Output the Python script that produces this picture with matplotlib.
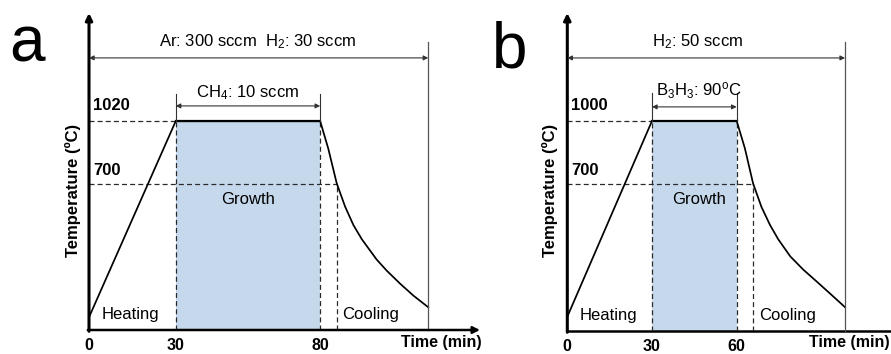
import numpy as np
import matplotlib.pyplot as plt

plt.rcParams['font.family'] = ['Liberation Sans', 'DejaVu Sans']
plt.rcParams['mathtext.fontset'] = 'custom'
plt.rcParams['mathtext.rm'] = 'Liberation Sans'
plt.rcParams['mathtext.it'] = 'Liberation Sans'

# panel a: graphene growth recipe (time in min, temperature in C)
a_time = [0, 30, 80, 82.8, 85.7, 88.6, 91.5, 94.4, 99.5, 103, 107.6, 112.2, 117.4]
a_temp = [20, 1020, 1020, 880, 704, 585, 490, 418, 315, 258, 192, 131, 71]
a_ticks = [0, 30, 80]
a_levels = [1020, 700]
a_gas = 'Ar: 300 sccm  H$_2$: 30 sccm'
a_source = 'CH$_4$: 10 sccm'

# panel b: h-BN growth recipe
b_time = [0, 30, 60, 62.9, 65.8, 68.8, 71.8, 74.7, 79, 83.6, 88.3, 93.1, 98.4]
b_temp = [68, 1000, 1000, 870, 703, 590, 505, 437, 355, 292, 236, 178, 113]
b_ticks = [0, 30, 60]
b_levels = [1000, 700]
b_gas = 'H$_2$: 50 sccm'
b_source = 'B$_3$H$_3$: 90$^\\mathrm{o}$C'

blue = '#c6d9ec'


def draw_panel(ax, t, T, ticks, levels, gas, source, ylim, xmax, ppu,
               growth_x, gas_x, src_y, gas_y, last_arrow=True):
    ax.set_xlim(0, xmax)
    ax.set_ylim(*ylim)
    for s in ax.spines.values():
        s.set_visible(False)
    ax.set_yticks([])
    ax.set_xticks(ticks)
    ax.set_xticklabels([str(v) for v in ticks], fontweight='bold', fontsize=11.5)
    ax.tick_params(axis='x', length=0, pad=6)

    t0, t1, t2 = t[1], t[2], t[4]
    t_end = t[-1]
    ymin = ylim[0]
    top, low = levels

    # axes with arrows
    ax.annotate('', xy=(0, 1), xytext=(0, -0.004), xycoords='axes fraction',
                arrowprops=dict(arrowstyle='-|>', lw=2.2, color='k', mutation_scale=10,
                                shrinkA=0, shrinkB=0))
    if last_arrow:
        ax.annotate('', xy=(1, 0), xytext=(-0.003, 0), xycoords='axes fraction',
                    arrowprops=dict(arrowstyle='-|>', lw=1.8, color='k', mutation_scale=10,
                                    shrinkA=0, shrinkB=0))
    else:
        ax.plot([0, 1], [0, 0], transform=ax.transAxes, color='k', lw=1.8,
                clip_on=False, solid_capstyle='butt')

    # growth shading
    ax.fill_between([t0, t1], ymin, top, color=blue, lw=0)

    dash = (0, (4, 2.5))
    dc = '#2a2a2a'
    ax.plot([0, t0], [top, top], color=dc, lw=0.9, ls=dash)
    ax.plot([0, t2], [low, low], color=dc, lw=0.9, ls=dash)
    for xv, yv in [(t0, top), (t1, top), (t2, low)]:
        ax.plot([xv, xv], [ymin, yv], color=dc, lw=0.9, ls=dash)

    # temperature profile
    ax.plot(t, T, color='k', lw=1.25, solid_joinstyle='round')
    ax.plot([t0, t1], [top, top], color='k', lw=1.6)

    # end marker
    ax.plot([t_end, t_end], [ymin, gas_y[1]], color='#555555', lw=0.9, clip_on=False)

    # gas arrow
    ax.annotate('', xy=(t_end, gas_y[0]), xytext=(0, gas_y[0]),
                arrowprops=dict(arrowstyle='<|-|>', lw=0.8, color='#333333',
                                mutation_scale=7, shrinkA=0, shrinkB=0))
    ax.text(gas_x, gas_y[1], gas, ha='center', va='center', fontsize=12)

    # precursor arrow
    for xv in (t0, t1):
        ax.plot([xv, xv], [top, src_y[1]], color='#333333', lw=0.8)
    ax.annotate('', xy=(t1, src_y[0]), xytext=(t0, src_y[0]),
                arrowprops=dict(arrowstyle='<|-|>', lw=0.8, color='#333333',
                                mutation_scale=7, shrinkA=0, shrinkB=0))
    ax.text(growth_x, src_y[2], source, ha='center', va='center', fontsize=12)

    # labels
    ax.annotate(str(top), xy=(0, top), xytext=(3, 11), textcoords='offset points',
                va='center', ha='left', fontsize=12, fontweight='bold')
    ax.annotate(str(low), xy=(0, low), xytext=(3, 10), textcoords='offset points',
                va='center', ha='left', fontsize=12, fontweight='bold')
    ax.text(growth_x, low - 16 * ppu, 'Growth', ha='center', va='center', fontsize=12)
    ax.text(4.5, ymin + 16 * ppu, 'Heating', ha='left', va='center', fontsize=12)
    ax.text(t2 + 2, ymin + 16 * ppu, 'Cooling', ha='left', va='center', fontsize=12)


fig = plt.figure(figsize=(8.91, 3.54), dpi=100)
W, H = 891, 354

ax_a = fig.add_axes([89 / W, (H - 330) / H, (480 - 89) / W, (330 - 13) / H])
draw_panel(ax_a, a_time, a_temp, a_ticks, a_levels, a_gas, a_source,
           ylim=(-45, 1572), xmax=(480 - 89) / 2.89, ppu=5.1,
           growth_x=55, gas_x=58.5, src_y=(1098, 1159, 1166), gas_y=(1343, 1424))

ax_b = fig.add_axes([567.3 / W, (H - 331) / H, (891 - 567.3) / W, (331 - 13) / H])
draw_panel(ax_b, b_time, b_temp, b_ticks, b_levels, b_gas, b_source,
           ylim=(0, 1514), xmax=(891 - 567.3) / 2.823, ppu=4.76,
           growth_x=46.5, gas_x=46, src_y=(1067, 1133, 1145), gas_y=(1300, 1376),
           last_arrow=False)

fig.text(73 / W, 1 - 190 / H, 'Temperature (ºC)', rotation=90, ha='center', va='center',
         fontsize=12, fontweight='bold')
fig.text(550 / W, 1 - 190 / H, 'Temperature (ºC)', rotation=90, ha='center', va='center',
         fontsize=12, fontweight='bold')
fig.text(441 / W, 1 - 343 / H, 'Time (min)', ha='center', va='center',
         fontsize=11.5, fontweight='bold')
fig.text(890 / W, 1 - 343 / H, 'Time (min)', ha='right', va='center',
         fontsize=11.5, fontweight='bold')
fig.text(9 / W, 1 - 62 / H, 'a', ha='left', va='baseline', fontsize=46)
fig.text(492 / W, 1 - 68 / H, 'b', ha='left', va='baseline', fontsize=46)

fig.savefig('out.png', dpi=100)
